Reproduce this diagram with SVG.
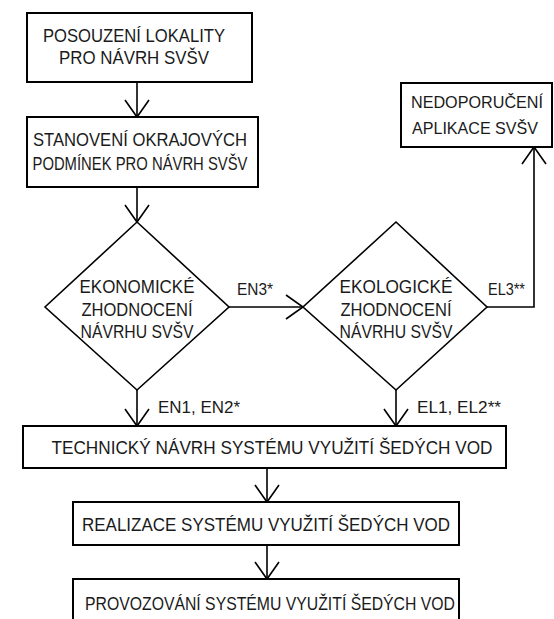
<svg xmlns="http://www.w3.org/2000/svg" width="554" height="619" viewBox="0 0 554 619">
<style>
.box{fill:#fff;stroke:#000;stroke-width:2}
.t{font-family:"Liberation Sans",Arial,sans-serif;font-size:18.5px;fill:#1a1a1a}
.s{font-size:16.5px}
.c{text-anchor:middle}
.lbl{font-family:"Liberation Sans",Arial,sans-serif;font-size:17px;fill:#1a1a1a}
.ln{fill:none;stroke:#000;stroke-width:1.6}
</style>
<defs>
<marker id="arr" markerUnits="userSpaceOnUse" markerWidth="40" markerHeight="40" refX="20" refY="20" orient="auto" viewBox="0 0 40 40">
<path d="M3,8 L20,20 L3,32" fill="none" stroke="#000" stroke-width="1.6"/>
</marker>
</defs>
<rect width="554" height="619" fill="#fff"/>
<g id="connectors">
<line class="ln" x1="137" y1="82" x2="137" y2="117" marker-end="url(#arr)"/>
<line class="ln" x1="137" y1="187" x2="137" y2="222" marker-end="url(#arr)"/>
<line class="ln" x1="229" y1="307" x2="303" y2="307" marker-end="url(#arr)"/>
<polyline class="ln" points="487,307 534,307 534,147" marker-end="url(#arr)"/>
<line class="ln" x1="137" y1="390" x2="137" y2="426" marker-end="url(#arr)"/>
<line class="ln" x1="396" y1="390" x2="396" y2="426" marker-end="url(#arr)"/>
<line class="ln" x1="267" y1="468" x2="267" y2="502" marker-end="url(#arr)"/>
<line class="ln" x1="267" y1="545" x2="267" y2="579" marker-end="url(#arr)"/>
<text class="lbl" x="237" y="295" textLength="36" lengthAdjust="spacingAndGlyphs">EN3*</text>
<text class="lbl" x="488" y="295" textLength="37" lengthAdjust="spacingAndGlyphs">EL3**</text>
<text class="lbl" x="158" y="413" textLength="82" lengthAdjust="spacingAndGlyphs">EN1, EN2*</text>
<text class="lbl" x="417" y="413" textLength="84" lengthAdjust="spacingAndGlyphs">EL1, EL2**</text>
</g>
<g id="posouzeni">
<rect class="box" x="27" y="13" width="225" height="69"/>
<text class="t c" x="134" y="42" textLength="182" lengthAdjust="spacingAndGlyphs">POSOUZENÍ LOKALITY</text>
<text class="t c" x="134" y="64" textLength="150" lengthAdjust="spacingAndGlyphs">PRO NÁVRH SVŠV</text>
</g>
<g id="stanoveni">
<rect class="box" x="27" y="117" width="231" height="70"/>
<text class="t c" x="140" y="146" textLength="214" lengthAdjust="spacingAndGlyphs">STANOVENÍ OKRAJOVÝCH</text>
<text class="t c" x="140" y="170" textLength="215" lengthAdjust="spacingAndGlyphs">PODMÍNEK PRO NÁVRH SVŠV</text>
</g>
<g id="ekonomicke">
<polygon class="box" style="stroke-width:1.6" points="137,222 229,307 137,390 45,307"/>
<text class="t c" x="137" y="293" textLength="115" lengthAdjust="spacingAndGlyphs">EKONOMICKÉ</text>
<text class="t c" x="137" y="316" textLength="111" lengthAdjust="spacingAndGlyphs">ZHODNOCENÍ</text>
<text class="t c" x="137" y="338" textLength="113" lengthAdjust="spacingAndGlyphs">NÁVRHU SVŠV</text>
</g>
<g id="ekologicke">
<polygon class="box" style="stroke-width:1.6" points="396,222 487,307 396,390 303,307"/>
<text class="t c" x="396" y="293" textLength="113" lengthAdjust="spacingAndGlyphs">EKOLOGICKÉ</text>
<text class="t c" x="396" y="316" textLength="111" lengthAdjust="spacingAndGlyphs">ZHODNOCENÍ</text>
<text class="t c" x="396" y="338" textLength="113" lengthAdjust="spacingAndGlyphs">NÁVRHU SVŠV</text>
</g>
<g id="nedoporuceni">
<rect class="box" x="401" y="83" width="151" height="64"/>
<text class="t s c" x="477" y="108" textLength="132" lengthAdjust="spacingAndGlyphs">NEDOPORUČENÍ</text>
<text class="t s c" x="475" y="134" textLength="126" lengthAdjust="spacingAndGlyphs">APLIKACE SVŠV</text>
</g>
<g id="technicky">
<rect class="box" x="23" y="426" width="483" height="42"/>
<text class="t c" x="272" y="454" textLength="441" lengthAdjust="spacingAndGlyphs">TECHNICKÝ NÁVRH SYSTÉMU VYUŽITÍ ŠEDÝCH VOD</text>
</g>
<g id="realizace">
<rect class="box" x="73" y="502" width="386" height="43"/>
<text class="t c" x="266" y="531" textLength="368" lengthAdjust="spacingAndGlyphs">REALIZACE SYSTÉMU VYUŽITÍ ŠEDÝCH VOD</text>
</g>
<g id="provozovani">
<rect class="box" x="73" y="579" width="386" height="50"/>
<text class="t c" x="270" y="610" textLength="370" lengthAdjust="spacingAndGlyphs">PROVOZOVÁNÍ SYSTÉMU VYUŽITÍ ŠEDÝCH VOD</text>
</g>
</svg>
